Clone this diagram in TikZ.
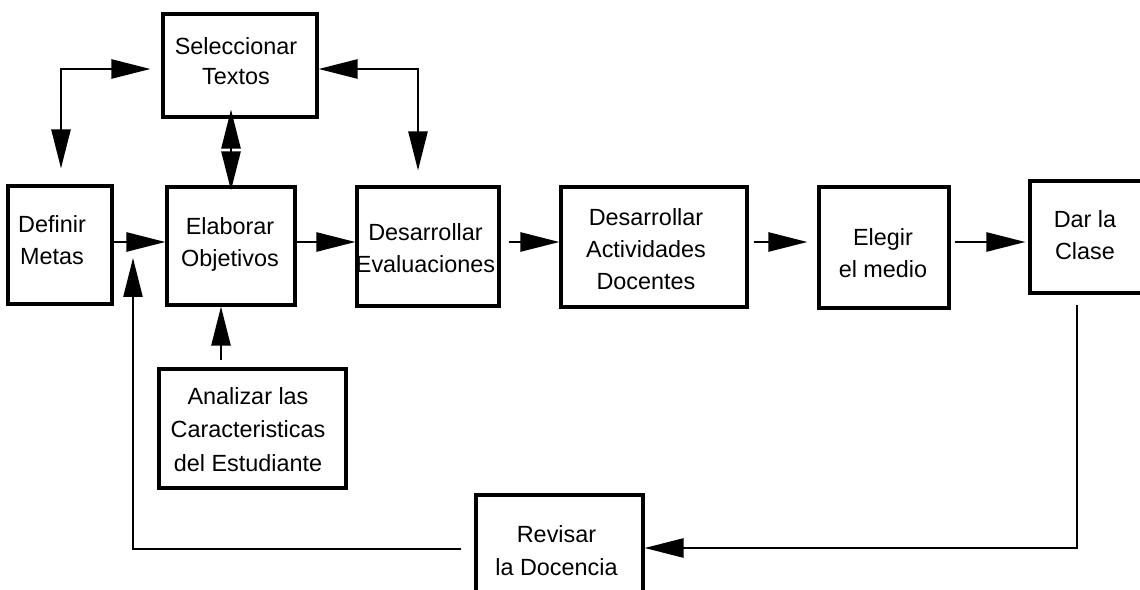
\documentclass[tikz,border=0pt]{standalone}
\usepackage{fontspec}
\setmainfont{Liberation Sans}
\usetikzlibrary{arrows.meta}
\tikzset{
  box/.style={draw, line width=3.1pt, inner sep=0pt},
  txt/.style={inner sep=0pt, anchor=north, align=center, font=\fontsize{23.4}{32}\selectfont},
  conn/.style={line width=2.5pt, -{Triangle[length=39pt,width=19pt]}},
  dconn/.style={line width=2.5pt, {Triangle[length=39pt,width=19pt]}-{Triangle[length=39pt,width=19pt]}},
}
\begin{document}
\begin{tikzpicture}[x=1pt,y=1pt]
\path[use as bounding box] (0,0) rectangle (1140,589);
\clip (0,0) rectangle (1140,589);
% boxes
\node[box, minimum width=154pt, minimum height=103pt] (sel) at (240,523.5) {};
\node[box, minimum width=104pt, minimum height=118pt] (def) at (60,344) {};
\node[box, minimum width=128pt, minimum height=118pt] (ela) at (231,343) {};
\node[box, minimum width=142pt, minimum height=119pt] (eva) at (428,342.5) {};
\node[box, minimum width=186pt, minimum height=120pt] (act) at (654,342) {};
\node[box, minimum width=130pt, minimum height=121pt] (ele) at (884,341.5) {};
\node[box, minimum width=114pt, minimum height=112pt] (dar) at (1087,352) {};
\node[box, minimum width=187pt, minimum height=119pt] (ana) at (252.5,160.5) {};
\node[box, minimum width=167pt, minimum height=109pt] (rev) at (559.5,39.5) {};
% texts
\node[txt, font=\fontsize{23.4}{30}\selectfont] (selT) at (236,552) {Seleccionar\\Textos};
\node[txt] (defT) at (52,374) {Definir\\Metas};
\node[txt] (elaT) at (230,372) {Elaborar\\Objetivos};
\node[txt] (evaT) at (425.5,366) {Desarrollar\\Evaluaciones};
\node[txt] (actT) at (646,381) {Desarrollar\\Actividades\\Docentes};
\node[txt] (eleT) at (883,361) {Elegir\\el medio};
\node[txt] (darT) at (1085,379) {Dar la\\Clase};
\node[txt, font=\fontsize{23.4}{33.5}\selectfont] (anaT) at (248,202) {Analizar las\\Caracteristicas\\del Estudiante};
\node[txt, font=\fontsize{23.4}{33}\selectfont] (revT) at (556.5,64) {Revisar\\la Docencia};
% helper coordinates
\coordinate (row) at (0,347);
\coordinate (tl) at (61,520);
\coordinate (tr) at (418,520);
\coordinate (ax) at (221,0);
\coordinate (br) at (1077,41);
\coordinate (bl) at (133,40);
\coordinate (fbend) at (133,331);
% main row
\draw[conn] (def.east |- row) -- (ela.west |- row);
\draw[conn] (ela.east |- row) -- (eva.west |- row);
\draw[conn, shorten <=8pt] (eva.east |- row) -- (act.west |- row);
\draw[conn, shorten <=5pt, shorten >=10pt] (act.east |- row) -- (ele.west |- row);
\draw[conn, shorten <=4pt, shorten >=3pt] (ele.east |- row) -- (dar.west |- row);
% top connectors
\draw[dconn, shorten <=11pt, shorten >=16pt] (sel.west |- tl) -- (tl) -- (tl |- def.north);
\draw[dconn, shorten >=15pt] (sel.east |- tr) -- (tr) -- (tr |- eva.north);
\draw[dconn, shorten <=-9pt, shorten >=-5pt] (sel.south -| ela.north) -- (ela.north);
% analizar
\draw[conn, shorten <=7pt] (ana.north -| ax) -- (ela.south -| ax);
% feedback
\draw[conn, shorten <=10pt] (dar.south -| br) -- (br) -- (rev.east |- br);
\draw[conn, shorten <=13pt] (rev.west |- bl) -- (bl) -- (fbend);
\end{tikzpicture}
\end{document}
